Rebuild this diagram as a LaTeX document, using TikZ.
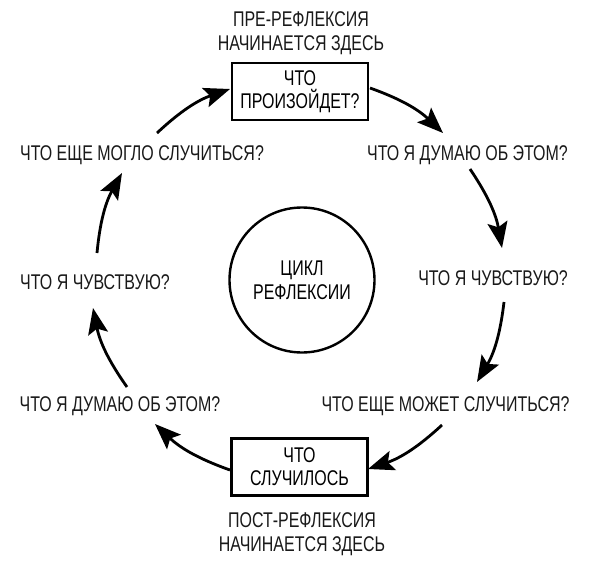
\documentclass[tikz,border=0pt]{standalone}
\usepackage{fontspec}
\setmainfont[FakeStretch=0.75]{Liberation Sans}
\usetikzlibrary{arrows.meta}
\tikzset{
  lbl/.style={inner sep=0pt, align=center, font=\fontsize{21.3}{24.5}\selectfont, text=black!90},
  boxed/.style={draw, line width=2.6pt, minimum width=136pt, minimum height=57pt, inner sep=0pt, align=center, font=\fontsize{21.3}{23}\selectfont},
  cyc/.style={line width=2.8pt, -{Stealth[length=26pt,width=20pt,inset=5pt]}, bend left=12},
}
\begin{document}
\begin{tikzpicture}[x=1pt,y=1pt]
\useasboundingbox (0,0) rectangle (592,-568);
% texts
\node[lbl] (pre) at (301,-33) {ПРЕ-РЕФЛЕКСИЯ\\НАЧИНАЕТСЯ ЗДЕСЬ};
\node[boxed] (top) at (300,-91.5) {ЧТО\\ПРОИЗОЙДЕТ?};
\node[boxed] (bot) at (299.5,-467) {ЧТО\\СЛУЧИЛОСЬ};
\node[lbl] (post) at (302,-534) {ПОСТ-РЕФЛЕКСИЯ\\НАЧИНАЕТСЯ ЗДЕСЬ};
\node[draw, circle, line width=2.4pt, minimum size=145pt, inner sep=0pt, align=center, font=\fontsize{21.3}{24}\selectfont] (cyc) at (302,-280) {ЦИКЛ\\РЕФЛЕКСИИ};
\node[lbl] (r1) at (467.5,-155) {ЧТО Я ДУМАЮ ОБ ЭТОМ?};
\node[lbl] (r2) at (493,-278) {ЧТО Я ЧУВСТВУЮ?};
\node[lbl] (r3) at (445.5,-406) {ЧТО ЕЩЕ МОЖЕТ СЛУЧИТЬСЯ?};
\node[lbl] (l3) at (142,-155) {ЧТО ЕЩЕ МОГЛО СЛУЧИТЬСЯ?};
\node[lbl] (l2) at (95,-282) {ЧТО Я ЧУВСТВУЮ?};
\node[lbl] (l1) at (120,-406) {ЧТО Я ДУМАЮ ОБ ЭТОМ?};
% arrow end points
\coordinate (a1s) at (370,-88);  \coordinate (a1e) at (443,-133);
\coordinate (a2s) at (470,-169); \coordinate (a2e) at (502,-248);
\coordinate (a3s) at (504,-302); \coordinate (a3e) at (477,-382);
\coordinate (a4s) at (442,-425); \coordinate (a4e) at (368,-469);
\coordinate (a5s) at (230,-470); \coordinate (a5e) at (155,-424);
\coordinate (a6s) at (127,-387); \coordinate (a6e) at (93,-308);
\coordinate (a7s) at (97,-253);  \coordinate (a7e) at (122,-173);
\coordinate (a8s) at (157,-133); \coordinate (a8e) at (230,-89);
\draw[cyc] (a1s) to (a1e);
\draw[cyc] (a2s) to (a2e);
\draw[cyc] (a3s) to (a3e);
\draw[cyc] (a4s) to (a4e);
\draw[cyc] (a5s) to (a5e);
\draw[cyc] (a6s) to (a6e);
\draw[cyc] (a7s) to (a7e);
\draw[cyc] (a8s) to (a8e);
\end{tikzpicture}
\end{document}
